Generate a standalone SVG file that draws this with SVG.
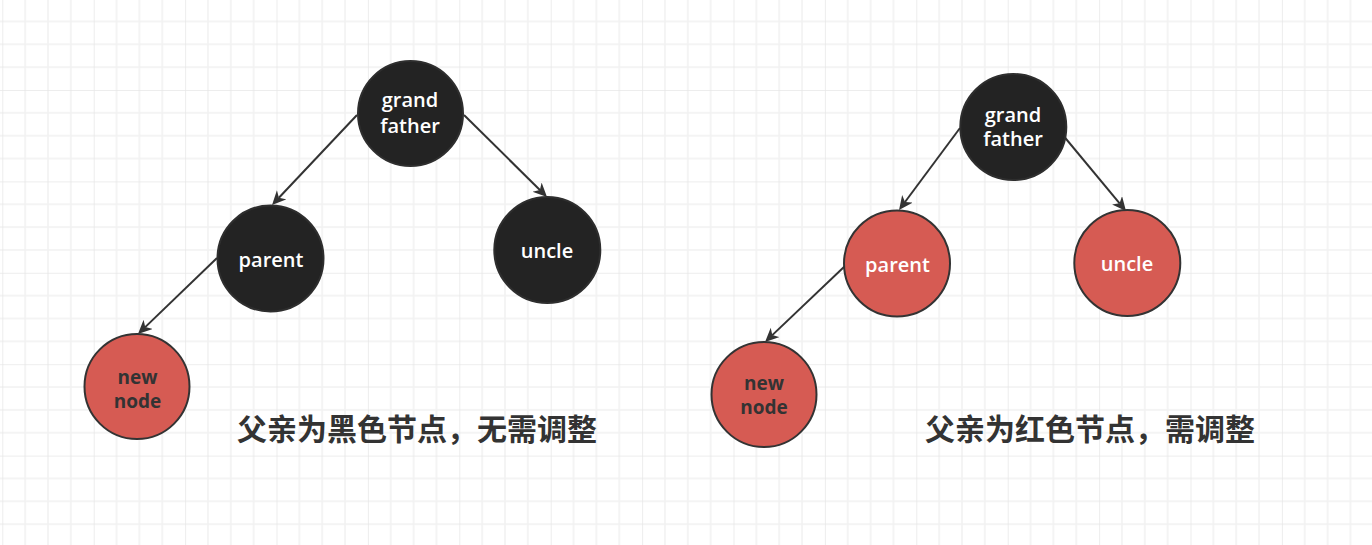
<svg xmlns="http://www.w3.org/2000/svg" width="1372" height="545" viewBox="0 0 1372 545">
  <style>
    .blk { fill: #232323; stroke: #2e2e2e; stroke-width: 2; }
    .red { fill: #d65b53; stroke: #333333; stroke-width: 2; }
    .wt { fill: #ffffff; font-family: "Open Sans", "Noto Sans", sans-serif; font-size: 20px; font-weight: 600; text-anchor: middle; }
    .dt { fill: #333333; font-family: "Open Sans", "Noto Sans", sans-serif; font-size: 19px; font-weight: 700; text-anchor: middle; }
    .cap { fill: #333333; font-family: "Noto Sans CJK SC", sans-serif; font-size: 30px; font-weight: 700; text-anchor: middle; }
    .edge { stroke: #333333; stroke-width: 2; fill: none; marker-end: url(#arrow); }
  </style>
  <defs>
    <pattern id="grid" patternUnits="userSpaceOnUse" x="2.3" y="-1.4" width="91.4" height="91.4">
      <g stroke="#f1f1f1" stroke-width="1.5">
        <line x1="22.85" y1="0" x2="22.85" y2="91.4"/>
        <line x1="45.7" y1="0" x2="45.7" y2="91.4"/>
        <line x1="68.55" y1="0" x2="68.55" y2="91.4"/>
        <line x1="0" y1="22.85" x2="91.4" y2="22.85"/>
        <line x1="0" y1="45.7" x2="91.4" y2="45.7"/>
        <line x1="0" y1="68.55" x2="91.4" y2="68.55"/>
      </g>
      <g stroke="#e7e7e7" stroke-width="1.5">
        <line x1="0" y1="0" x2="0" y2="91.4"/>
        <line x1="0" y1="0" x2="91.4" y2="0"/>
      </g>
    </pattern>
    <marker id="arrow" markerUnits="userSpaceOnUse" markerWidth="17" markerHeight="14" refX="4" refY="6.5" orient="auto">
      <path d="M0,0 L14,6.5 L0,13 L4,6.5 Z" fill="#333333"/>
    </marker>
  </defs>
  <rect width="1372" height="545" fill="#ffffff"/>
  <rect width="1372" height="545" fill="url(#grid)"/>

  <g id="connectors">
    <line class="edge" x1="357" y1="115" x2="278.9" y2="197.7"/>
    <line class="edge" x1="464" y1="115" x2="539.9" y2="190"/>
    <line class="edge" x1="217" y1="258" x2="145.2" y2="327.1"/>
    <line class="edge" x1="960" y1="128" x2="905" y2="202"/>
    <line class="edge" x1="1057" y1="128" x2="1119.6" y2="203.3"/>
    <line class="edge" x1="845" y1="266" x2="772.3" y2="335.1"/>
  </g>

  <g id="grandfather-left">
    <circle class="blk" cx="410.5" cy="113.5" r="52.5"/>
    <text class="wt" x="410" y="107">grand</text>
    <text class="wt" x="410" y="132.5">father</text>
  </g>
  <g id="parent-left">
    <circle class="blk" cx="270.5" cy="258.5" r="53"/>
    <text class="wt" x="271" y="266.5">parent</text>
  </g>
  <g id="uncle-left">
    <circle class="blk" cx="547.3" cy="250" r="53"/>
    <text class="wt" x="547" y="258">uncle</text>
  </g>
  <g id="newnode-left">
    <circle class="red" cx="137" cy="386.5" r="52.5"/>
    <text class="dt" x="137.5" y="383.5">new</text>
    <text class="dt" x="137.5" y="407.5">node</text>
  </g>
  <g id="caption-left">
    <text class="cap" x="417" y="440">父亲为黑色节点，无需调整</text>
  </g>

  <g id="grandfather-right">
    <circle class="blk" cx="1013.3" cy="127" r="53"/>
    <text class="wt" x="1013" y="121.5">grand</text>
    <text class="wt" x="1013" y="146">father</text>
  </g>
  <g id="parent-right">
    <circle class="red" cx="897" cy="263.5" r="53"/>
    <text class="wt" x="897.5" y="271.5">parent</text>
  </g>
  <g id="uncle-right">
    <circle class="red" cx="1127.3" cy="263" r="53"/>
    <text class="wt" x="1127" y="271">uncle</text>
  </g>
  <g id="newnode-right">
    <circle class="red" cx="764" cy="394.5" r="52.5"/>
    <text class="dt" x="764" y="390">new</text>
    <text class="dt" x="764" y="413.5">node</text>
  </g>
  <g id="caption-right">
    <text class="cap" x="1090" y="440">父亲为红色节点，需调整</text>
  </g>
</svg>
